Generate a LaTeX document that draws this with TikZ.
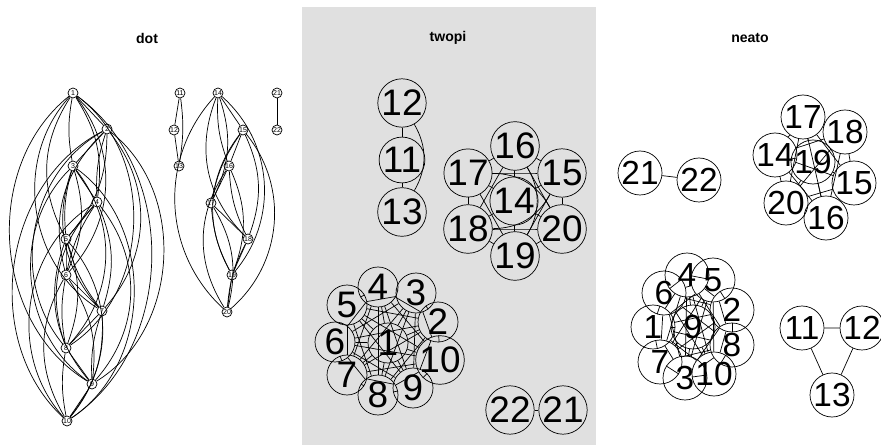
\documentclass[tikz,border=0pt]{standalone}
\usepackage{fontspec}
\setmainfont{Liberation Sans}
\usetikzlibrary{calc}
\definecolor{panelgray}{HTML}{E0E0E0}

\begin{document}
\begin{tikzpicture}[x=0.02cm,y=-0.02cm,line width=0.4pt,
  dotnode/.style={circle,draw,fill=white,inner sep=0pt,minimum size=0.2cm,font=\fontsize{4}{4}\selectfont},
  twonode/.style={circle,draw,inner sep=0pt,minimum size=0.8cm,font=\fontsize{21}{21}\selectfont},
  neatonode/.style={circle,draw,inner sep=0pt,minimum size=0.88cm,font=\fontsize{19}{19}\selectfont},
  paneltitle/.style={font=\bfseries\fontsize{8}{9}\selectfont}]
\useasboundingbox (0,0) rectangle (881,445);
\fill[panelgray] (302,7) rectangle (596,445);

\node[paneltitle] (tdot) at (147,38) {dot};
\node[paneltitle] (ttwopi) at (448,38) {twopi};
\node[paneltitle] (tneato) at (750,38) {neato};

% dot
\foreach \n/\x/\y in {1/73/93,2/107/129,3/73/166,4/97/202,5/66/239,6/66/275,
    7/102/311,8/66/348,9/92/384,10/67/421,11/180/93,12/174/130,13/179/166,
    14/218/93,15/243/130,16/229/166,17/211/203,18/248/239,19/232/275,
    20/227/312,21/277/93,22/277/130}
    \node[dotnode] (d\n) at (\x,\y) {\n};

\foreach \i in {1,...,9}{
  \pgfmathtruncatemacro\k{\i+1}
  \foreach \j in {\k,...,10}{
    \pgfmathsetmacro\bnd{min(10*(\j-\i-1),55)*(2*mod(\i+\j,2)-1)}
    \draw (d\i) to[bend left=\bnd] (d\j);
  }
}
\foreach \i in {14,...,19}{
  \pgfmathtruncatemacro\k{\i+1}
  \foreach \j in {\k,...,20}{
    \pgfmathsetmacro\bnd{min(11*(\j-\i-1),45)*(2*mod(\i+\j,2)-1)}
    \draw (d\i) to[bend left=\bnd] (d\j);
  }
}
\draw (d11) -- (d12) -- (d13);
\draw (d11) to[bend left=8] (d13);
\draw (d21) -- (d22);

% twopi
\foreach \n/\x/\y in {1/388/343,2/438/322,3/416/293,4/378/287,5/347/305,
    6/335/342,7/347/375,8/378/395,9/413/388,10/440/360,11/402/160,
    12/402/103,13/402/212,14/514/201,15/562/173,16/515/146,17/468/173,
    18/468/229,19/515/256,20/562/229,21/563/410,22/510/410}
    \node[twonode] (t\n) at (\x,\y) {\n};

\foreach \i in {1,...,9}{
  \pgfmathtruncatemacro\k{\i+1}
  \foreach \j in {\k,...,10}
    \draw (t\i) -- (t\j);
}
\foreach \i in {14,...,19}{
  \pgfmathtruncatemacro\k{\i+1}
  \foreach \j in {\k,...,20}{
    \pgfmathsetmacro\bnd{((\i==16 && \j==19) || (\i==15 && \j==18) || (\i==17 && \j==20)) ? 30 : 0}
    \draw (t\i) to[bend left=\bnd] (t\j);
  }
}
\draw (t12) -- (t11) -- (t13);
\draw (t12) to[bend left=30] (t13);
\draw (t22) -- (t21);

% neato
\foreach \n/\x/\y in {1/653/327,2/732/310,3/685/378,4/687/275,5/713/280,
    6/664/293,7/660/362,8/732/345,9/693/327,10/714/374,11/802/328,
    12/862/328,13/832/395,14/775/155,15/854/183,16/826/218,17/803/117,
    18/845/132,19/813/162,20/786/203,21/640/173,22/699/180}
    \node[neatonode] (n\n) at (\x,\y) {\n};

\foreach \i in {1,...,9}{
  \pgfmathtruncatemacro\k{\i+1}
  \foreach \j in {\k,...,10}
    \draw (n\i) -- (n\j);
}
\foreach \i in {14,...,19}{
  \pgfmathtruncatemacro\k{\i+1}
  \foreach \j in {\k,...,20}
    \draw (n\i) -- (n\j);
}
\draw (n11) -- (n12) -- (n13) -- (n11);
\draw (n21) -- (n22);

\end{tikzpicture}
\end{document}
